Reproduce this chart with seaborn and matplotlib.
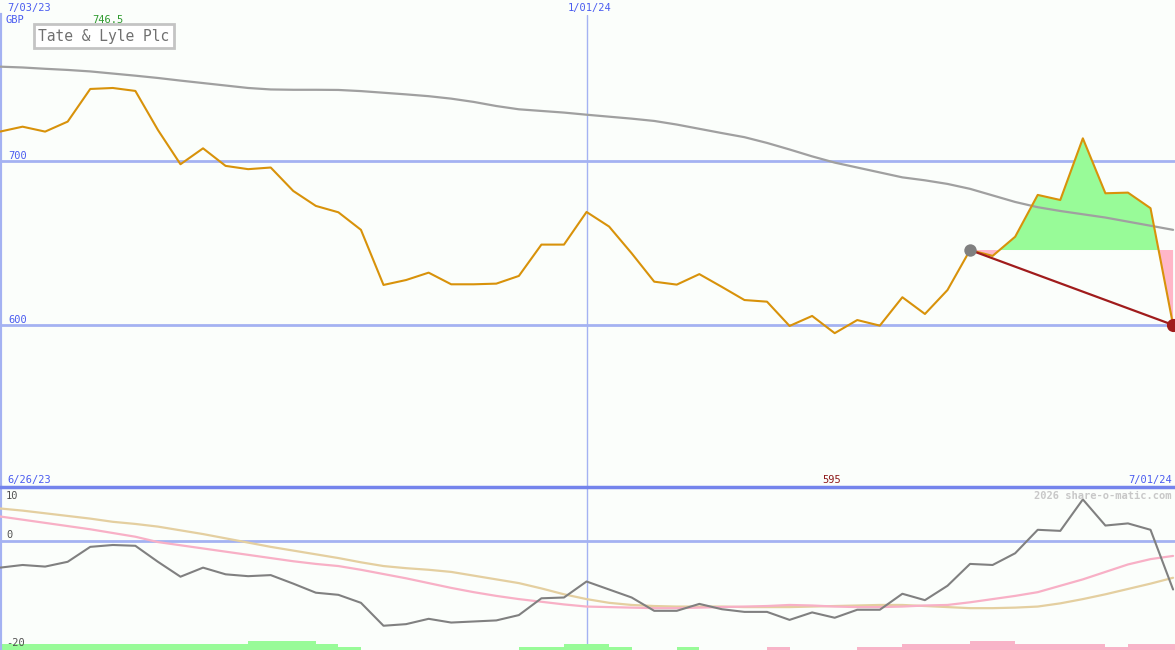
import numpy as np
import matplotlib.pyplot as plt
import seaborn as sns

# weekly closes, 7/03/23 .. 7/01/24 (GBP pence)
price = [717.9, 720.9, 717.9, 724.0, 743.9, 744.5, 742.7, 718.9, 698.0, 707.7,
         697.0, 695.0, 696.0, 681.7, 672.6, 668.7, 658.0, 624.4, 627.4, 631.9,
         624.8, 624.8, 625.2, 629.9, 649.0, 649.0, 668.9, 660.0, 643.7, 626.4,
         624.6, 631.0, 623.2, 615.2, 614.2, 599.4, 605.5, 595.0, 603.0, 599.6,
         616.9, 606.7, 621.3, 645.7, 642.1, 653.8, 679.3, 676.2, 713.8, 680.3,
         680.7, 671.2, 600.0]
# long moving average (grey)
trend = [757.5, 757.0, 756.2, 755.5, 754.6, 753.3, 752.0, 750.6, 749.0, 747.5,
         746.0, 744.5, 743.6, 743.4, 743.4, 743.3, 742.6, 741.6, 740.6, 739.5,
         738.0, 736.0, 733.5, 731.5, 730.5, 729.5, 728.2, 727.0, 725.8, 724.4,
         722.2, 719.6, 717.0, 714.5, 711.0, 707.0, 702.8, 699.0, 696.0, 693.0,
         690.0, 688.2, 686.0, 683.0, 679.0, 675.0, 671.8, 669.5, 667.5, 665.5,
         663.0, 660.5, 658.0]
# relative performance (%) and its averages
rel = [-5.0, -4.5, -4.8, -3.9, -1.1, -0.75, -0.9, -3.9, -6.7, -5.0,
       -6.25, -6.6, -6.4, -8.0, -9.7, -10.1, -11.6, -15.9, -15.6, -14.6,
       -15.3, -15.1, -14.9, -13.9, -10.75, -10.6, -7.6, -9.1, -10.6, -13.1,
       -13.1, -11.8, -12.8, -13.3, -13.3, -14.8, -13.4, -14.4, -12.9, -12.9,
       -9.9, -11.1, -8.4, -4.3, -4.5, -2.3, 2.1, 1.9, 7.8, 2.9,
       3.3, 2.1, -9.1]
rel_fast = [4.6, 4.0, 3.4, 2.8, 2.2, 1.5, 0.8, -0.2, -0.8, -1.4,
            -2.0, -2.6, -3.2, -3.8, -4.3, -4.7, -5.4, -6.2, -7.0, -7.9,
            -8.8, -9.6, -10.3, -10.9, -11.4, -11.9, -12.3, -12.4, -12.5, -12.6,
            -12.6, -12.5, -12.4, -12.3, -12.2, -12.0, -12.1, -12.3, -12.4, -12.4,
            -12.3, -12.1, -12.0, -11.5, -10.9, -10.3, -9.6, -8.4, -7.2, -5.8,
            -4.4, -3.4, -2.8]
rel_slow = [6.1, 5.7, 5.2, 4.7, 4.2, 3.6, 3.2, 2.7, 2.0, 1.3,
            0.5, -0.3, -1.1, -1.8, -2.5, -3.2, -4.0, -4.7, -5.1, -5.4,
            -5.8, -6.5, -7.2, -7.9, -8.9, -10.0, -10.9, -11.6, -12.0, -12.2,
            -12.3, -12.3, -12.3, -12.4, -12.4, -12.4, -12.3, -12.2, -12.1, -12.0,
            -12.0, -12.2, -12.4, -12.6, -12.6, -12.5, -12.3, -11.7, -10.9, -10.0,
            -9.0, -8.0, -6.9]
# signal strength bars (+ green, - pink)
signal = [2, 2, 2, 2, 2, 2, 2, 2, 2, 2,
          2, 3, 3, 3, 2, 1, 0, 0, 0, 0,
          0, 0, 0, 1, 1, 2, 2, 1, 0, 0,
          1, 0, 0, 0, -1, 0, 0, 0, -1, -1,
          -2, -2, -2, -3, -3, -2, -2, -2, -2, -1,
          -2, -2, -2]

title = "Tate & Lyle Plc"
start_label, mid_label, end_label, lower_start = "7/03/23", "1/01/24", "7/01/24", "6/26/23"
high_label, low_label = "746.5", "595"
mid_idx, mark_idx = 26, 43

BG = "#FBFEFB"
GRID = "#A4B2F2"
BLUE = "#4A5CF0"

sns.set_style("white")
plt.rcParams['font.family'] = ['DejaVu Sans Mono', 'DejaVu Sans']

W, H = 1175, 650
fig = plt.figure(figsize=(W / 100, H / 100), dpi=100)
fig.patch.set_facecolor(BG)


def fx(x, y):
    return x / W, 1 - y / H


ax = fig.add_axes([0, 1 - 487 / H, 1, (487 - 15) / H])
ax2 = fig.add_axes([0, 0, 1, 1 - 487 / H])
xs = np.arange(len(price))
xmax = (W - 1) / 22.54

for a in (ax, ax2):
    a.set_facecolor(BG)
    a.set_xlim(0, xmax)
    a.set_xticks([])
    a.set_yticks([])
    for s in a.spines.values():
        s.set_visible(False)
    a.spines['left'].set_visible(True)
    a.spines['left'].set_color(GRID)
    a.spines['left'].set_linewidth(3)
    a.axvline(mid_idx, color=GRID, lw=1, zorder=1)

# --- top panel ---
ax.set_ylim(501.2, 789.0)
for lvl in (700, 600):
    ax.axhline(lvl, color=GRID, lw=2, zorder=1)

p = np.array(price)
ref = price[mark_idx]
seg = xs[mark_idx:]
ax.fill_between(seg, p[mark_idx:], ref, where=p[mark_idx:] >= ref, interpolate=True,
                color="#98FB98", lw=0, zorder=2)
ax.fill_between(seg, p[mark_idx:], ref, where=p[mark_idx:] < ref, interpolate=True,
                color="#FFB6C8", lw=0, zorder=2)

sns.lineplot(x=xs, y=trend, ax=ax, color="#A0A0A0", linewidth=1.6, zorder=3)
sns.lineplot(x=xs, y=price, ax=ax, color="#D8920A", linewidth=1.5, zorder=4)
ax.plot([mark_idx, xs[-1]], [ref, price[-1]], color="#A01C1C", lw=1.6, zorder=5)
ax.scatter([mark_idx], [ref], s=80, color="#808080", zorder=6, lw=0)
ax.scatter([xs[-1]], [price[-1]], s=90, color="#A01C1C", zorder=6, lw=0)

# --- lower panel ---
ax2.set_ylim(-20.45, 10.13)
ax2.spines['top'].set_visible(True)
ax2.spines['top'].set_color("#7484EC")
ax2.spines['top'].set_linewidth(2.5)
ax2.axhline(0, color=GRID, lw=2, zorder=1)

sig = np.array(signal)
bar_h = np.abs(sig) * 0.5625
bar_c = ["#98FB98" if v > 0 else "#F8B4C8" for v in sig]
ax2.bar(xs, bar_h, width=1.0, bottom=-20.45, align='edge', color=bar_c, lw=0, zorder=2)

sns.lineplot(x=xs, y=rel_slow, ax=ax2, color="#E4CFA0", linewidth=1.6, zorder=3)
sns.lineplot(x=xs, y=rel_fast, ax=ax2, color="#F8B0C6", linewidth=1.6, zorder=3)
sns.lineplot(x=xs, y=rel, ax=ax2, color="#808080", linewidth=1.5, zorder=4)

# --- text ---
fs = 7.5
fig.text(*fx(7, 8), start_label, color=BLUE, fontsize=fs, va='center')
fig.text(*fx(5, 20), "GBP", color=BLUE, fontsize=fs, va='center')
fig.text(*fx(108, 20), high_label, color="#2E9A2E", fontsize=fs, va='center', ha='center')
fig.text(*fx(104, 36), title, color="#707070", fontsize=10.5, va='center', ha='center',
         bbox=dict(boxstyle='square,pad=0.3', fc='white', ec='#C4C4C4', lw=2))
fig.text(*fx(590, 8), mid_label, color=BLUE, fontsize=fs, va='center', ha='center')
fig.text(*fx(8, 156), "700", color=BLUE, fontsize=fs, va='center')
fig.text(*fx(8, 320), "600", color=BLUE, fontsize=fs, va='center')
fig.text(*fx(7, 480), lower_start, color=BLUE, fontsize=fs, va='center')
fig.text(*fx(832, 480), low_label, color="#8E1A1A", fontsize=fs, va='center', ha='center')
fig.text(*fx(1172, 480), end_label, color=BLUE, fontsize=fs, va='center', ha='right')
fig.text(*fx(6, 496), "10", color="#505050", fontsize=fs, va='center')
fig.text(*fx(6, 535), "0", color="#505050", fontsize=fs, va='center')
fig.text(*fx(6, 643), "-20", color="#505050", fontsize=fs, va='center')
fig.text(*fx(1172, 496), "2026 share-o-matic.com", color="#C8C8C8", fontsize=fs,
         va='center', ha='right', fontweight='bold')

fig.savefig("out.png", dpi=100, facecolor=BG)
